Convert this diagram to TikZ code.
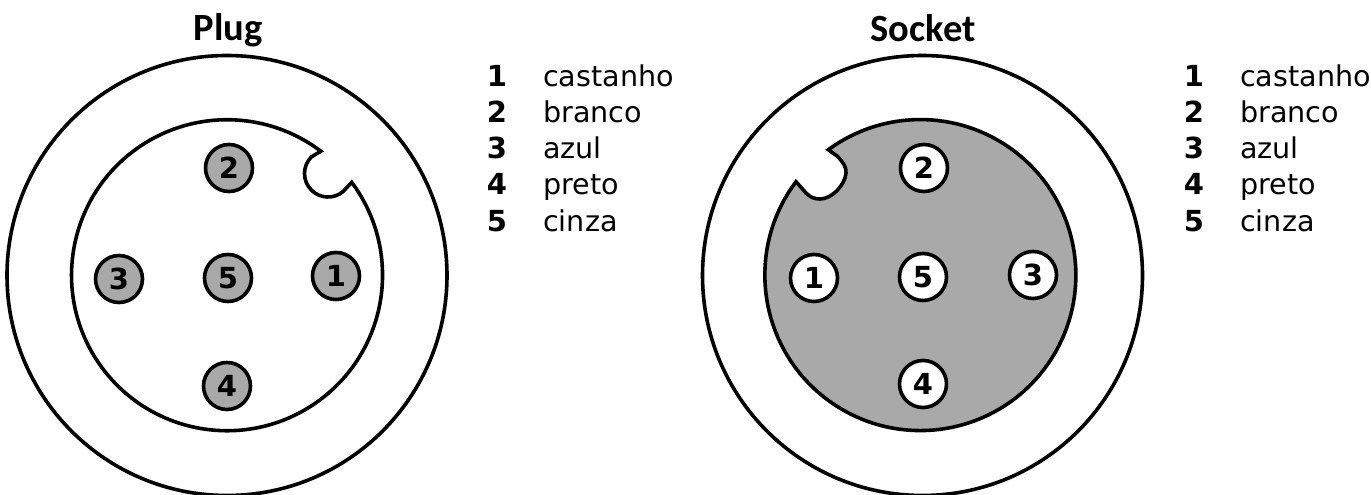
\documentclass[tikz,border=0pt]{standalone}
\usepackage{fontspec}
\setmainfont{DejaVu Sans}
\newfontfamily\titlefont{Carlito}
\definecolor{pingrey}{HTML}{A9A9A9}
\tikzset{
  x=1pt,y=1pt,
  ring/.style={draw=black,line width=3.6pt},
  body/.style={draw=black,line width=3.6pt,line join=miter},
  pinbox/.style={circle,draw=black,line width=3.6pt,minimum size=47pt,inner sep=0pt,font=\fontsize{29}{29}\selectfont\bfseries},
  greypin/.style={pinbox,fill=pingrey},
  whitepin/.style={pinbox,fill=white},
  numlabel/.style={anchor=base,inner sep=0pt,font=\fontsize{29}{29}\selectfont\bfseries},
  namelabel/.style={anchor=base west,inner sep=0pt,font=\fontsize{28.6}{28.6}\selectfont},
  titlelabel/.style={anchor=center,inner sep=0pt,font=\titlefont\fontsize{38.5}{38.5}\selectfont\bfseries}
}
\begin{document}
\begin{tikzpicture}
\useasboundingbox (0,0) rectangle (1371,495);
% Plug
\node[titlelabel] (plugtitle) at (228,465) {Plug};
\draw[ring] (227,219.5) circle (220);
\draw[body] (351.7,312.7)
  arc[start angle=36.7,end angle=-307.1,radius=155.5]
  -- (311.4,338.1)
  arc[start angle=135,end angle=310,radius=23.5]
  -- cycle;
\node[greypin] (p2) at (229,327) {2};
\node[greypin] (p3) at (119,216) {3};
\node[greypin] (p5) at (228,217) {5};
\node[greypin] (p1) at (336,219) {1};
\node[greypin] (p4) at (227,109) {4};
\node[numlabel] (pn1) at (497,408) {1};
\node[numlabel] (pn2) at (497,372) {2};
\node[numlabel] (pn3) at (497,336) {3};
\node[numlabel] (pn4) at (497,300) {4};
\node[numlabel] (pn5) at (497,263.5) {5};
\node[namelabel] (pl1) at (543,408) {castanho};
\node[namelabel] (pl2) at (543,372) {branco};
\node[namelabel] (pl3) at (543,336) {azul};
\node[namelabel] (pl4) at (543,300) {preto};
\node[namelabel] (pl5) at (543,263.5) {cinza};
% Socket
\node[titlelabel] (socktitle) at (923,467) {Socket};
\draw[ring] (922.5,219.5) circle (220);
\draw[body,fill=pingrey] (796,313.3)
  arc[start angle=143.1,end angle=486.3,radius=155.5]
  -- (837,339)
  .. controls (843,333) and (846.5,328) .. (846,322)
  .. controls (845,310) and (832,296) .. (820,296)
  .. controls (814,296) and (810,298) .. (806,302)
  -- cycle;
\node[whitepin] (s2) at (924,327) {2};
\node[whitepin] (s1) at (814,217) {1};
\node[whitepin] (s5) at (923,218) {5};
\node[whitepin] (s3) at (1033,220) {3};
\node[whitepin] (s4) at (923,111) {4};
\node[numlabel] (sn1) at (1194,408) {1};
\node[numlabel] (sn2) at (1194,372) {2};
\node[numlabel] (sn3) at (1194,336) {3};
\node[numlabel] (sn4) at (1194,300) {4};
\node[numlabel] (sn5) at (1194,263.5) {5};
\node[namelabel] (sl1) at (1240,408) {castanho};
\node[namelabel] (sl2) at (1240,372) {branco};
\node[namelabel] (sl3) at (1240,336) {azul};
\node[namelabel] (sl4) at (1240,300) {preto};
\node[namelabel] (sl5) at (1240,263.5) {cinza};
\end{tikzpicture}
\end{document}
